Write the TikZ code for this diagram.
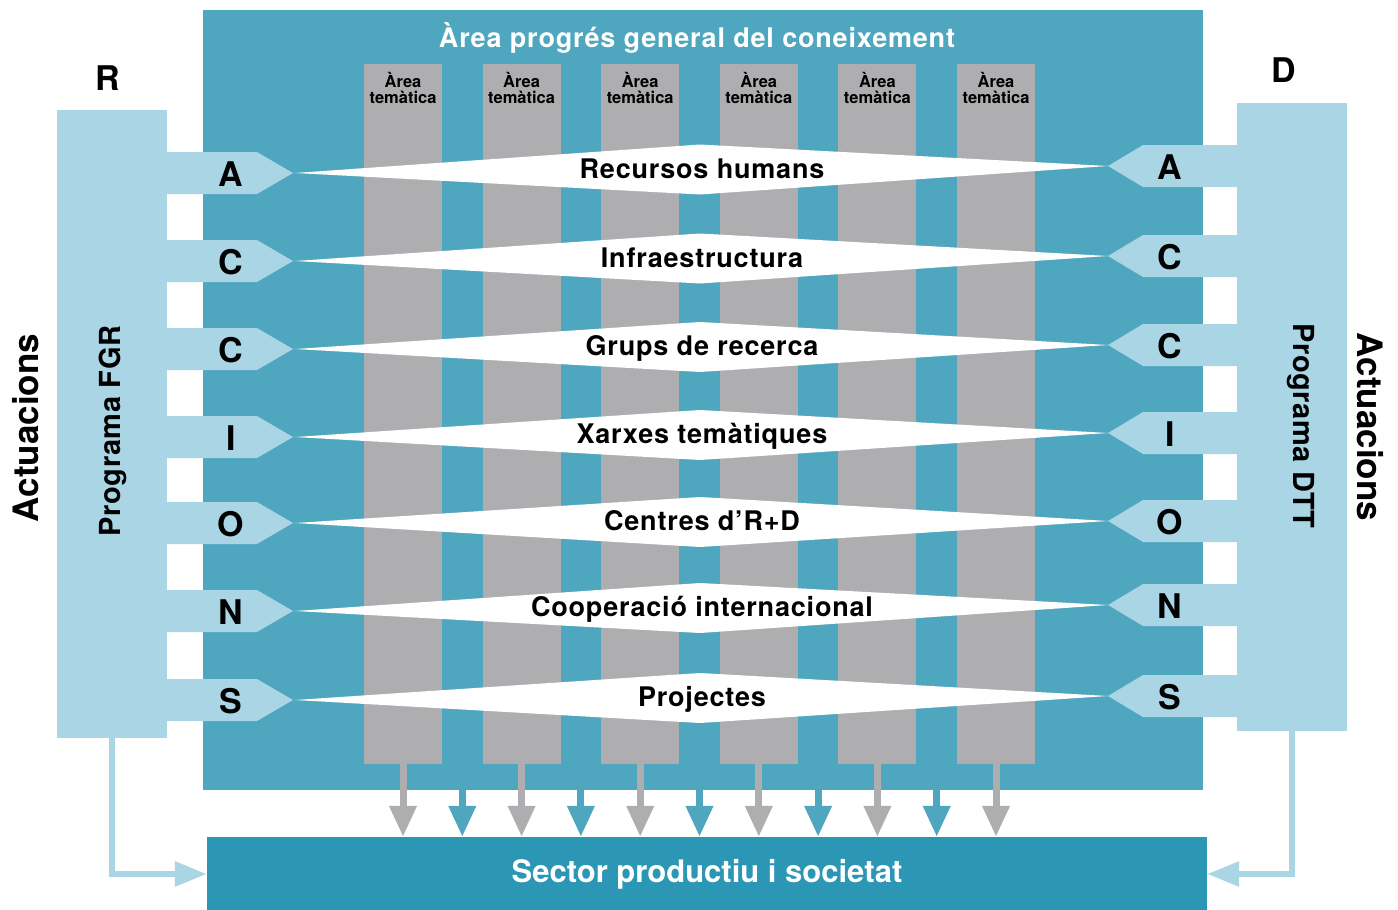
\documentclass[tikz,border=0pt]{standalone}
\usepackage{fontspec}
\setmainfont{TeX Gyre Heros}
\usepackage{xcolor}
\usepackage{tikz}
\usetikzlibrary{arrows.meta, positioning, calc}
\definecolor{AreaTeal}{HTML}{4FA6BF}
\definecolor{SectorTeal}{HTML}{2C97B5}
\definecolor{ThemeGray}{HTML}{AEAEB1}
\definecolor{PanelBlue}{HTML}{A9D5E4}

\begin{document}
\begin{tikzpicture}[x=1pt, y=-1pt]
    \tikzstyle{area} = [rectangle, minimum width=1000pt, minimum height=780pt, inner sep=0pt, fill=AreaTeal]
    \tikzstyle{theme} = [rectangle, minimum width=78pt, minimum height=700pt, inner sep=0pt, fill=ThemeGray]
    \tikzstyle{themetext} = [align=center, inner sep=0pt, font=\bfseries\fontsize{16.5}{16.5}\selectfont]
    \tikzstyle{panel} = [rectangle, minimum width=110pt, minimum height=628pt, inner sep=0pt, fill=PanelBlue]
    \tikzstyle{sector} = [rectangle, minimum width=1000pt, minimum height=74pt, inner sep=0pt, fill=SectorTeal, text=white, font=\bfseries\fontsize{31}{33}\selectfont]
    \tikzstyle{letter} = [inner sep=0pt, font=\bfseries\fontsize{34}{36}\selectfont]
    \tikzstyle{topic} = [inner sep=0pt, text height=19pt, text depth=0pt, font=\bfseries\fontsize{27}{29}\selectfont\addfontfeature{LetterSpace=3}]
    \tikzstyle{headline} = [topic, text=white]
    \tikzstyle{program} = [inner sep=0pt, font=\bfseries\fontsize{29}{31}\selectfont\addfontfeature{LetterSpace=2}]
    \tikzstyle{actions} = [inner sep=0pt, font=\bfseries\fontsize{35}{38}\selectfont]
    \tikzstyle{colarrow} = [line width=7pt, draw=ThemeGray, -{Triangle[width=26pt, length=31pt]}]
    \tikzstyle{tealarrow} = [line width=7pt, draw=AreaTeal, -{Triangle[width=26pt, length=31pt]}]
    \tikzstyle{sidearrow} = [line width=6pt, draw=PanelBlue, -{Triangle[width=24pt, length=32pt]}]

    \useasboundingbox (0,0) rectangle (1398,910);

    % central area with the thematic columns
    \node (main) [area] at (703,400) {};
    \node (title) [headline] at (697,38) {Àrea progrés general del coneixement};
    \foreach \i in {1,...,6} {
        \pgfmathsetmacro\cx{403+118.6*(\i-1)}
        \node (col\i) [theme] at (\cx,414) {};
        \node (area\i) [themetext, below=8pt of col\i.north] {Àrea\\temàtica};
    }

    % FGR and DTT programmes
    \node (fgr) [panel] at (112,424) {};
    \node (dtt) [panel] at (1292,417) {};
    \node (rlabel) [letter] at (108,78) {R};
    \node (dlabel) [letter] at (1284,70) {D};
    \node (fgrtext) [program, rotate=90] at (113,431) {Programa FGR};
    \node (dtttext) [program, rotate=-90] at (1301,426) {Programa DTT};
    \node (actleft) [actions, rotate=90] at (26,428) {Actuacions};
    \node (actright) [actions, rotate=-90] at (1370,427) {Actuacions};

    % rows: tabs on both sides joined by a white lens
    \foreach \L/\R/\ch/\txt [count=\i] in {173/166/A/Recursos humans, 261/256/C/Infraestructura, 349/345/C/Grups de recerca, 437/433/I/Xarxes temàtiques, 523/521/O/Centres d'R+D, 611/605/N/Cooperació internacional, 700/696/S/Projectes} {
        \fill[white] (295,\L) -- (700,{(\L+\R)/2-25}) -- (1108,\R) -- (700,{(\L+\R)/2+25}) -- cycle;
        \fill[PanelBlue] (160,{\L-21}) -- (257,{\L-21}) -- (293,\L) -- (257,{\L+21}) -- (160,{\L+21}) -- cycle;
        \fill[PanelBlue] (1245,{\R-21}) -- (1143,{\R-21}) -- (1108,\R) -- (1143,{\R+21}) -- (1245,{\R+21}) -- cycle;
        \node (left\i) [letter] at (231,{\L+1}) {\ch};
        \node (right\i) [letter] at (1170,{\R+1}) {\ch};
        \node (topic\i) [topic] at (702,{(\L+\R)/2-1}) {\txt};
    }

    % output
    \node (sector) [sector] at (707,874) {Sector productiu i societat};
    \foreach \i in {1,...,6}
        \draw [colarrow] (col\i.south) -- (col\i.south |- sector.north);
    \foreach \i/\j in {1/2,2/3,3/4,4/5,5/6} {
        \coordinate (gap\i) at ($(col\i.south)!0.5!(col\j.south)$);
        \draw [tealarrow] (gap\i |- main.south) -- (gap\i |- sector.north);
    }
    \draw [sidearrow] (fgr.south) |- (sector.west);
    \draw [sidearrow] (dtt.south) |- (sector.east);

\end{tikzpicture}
\end{document}
